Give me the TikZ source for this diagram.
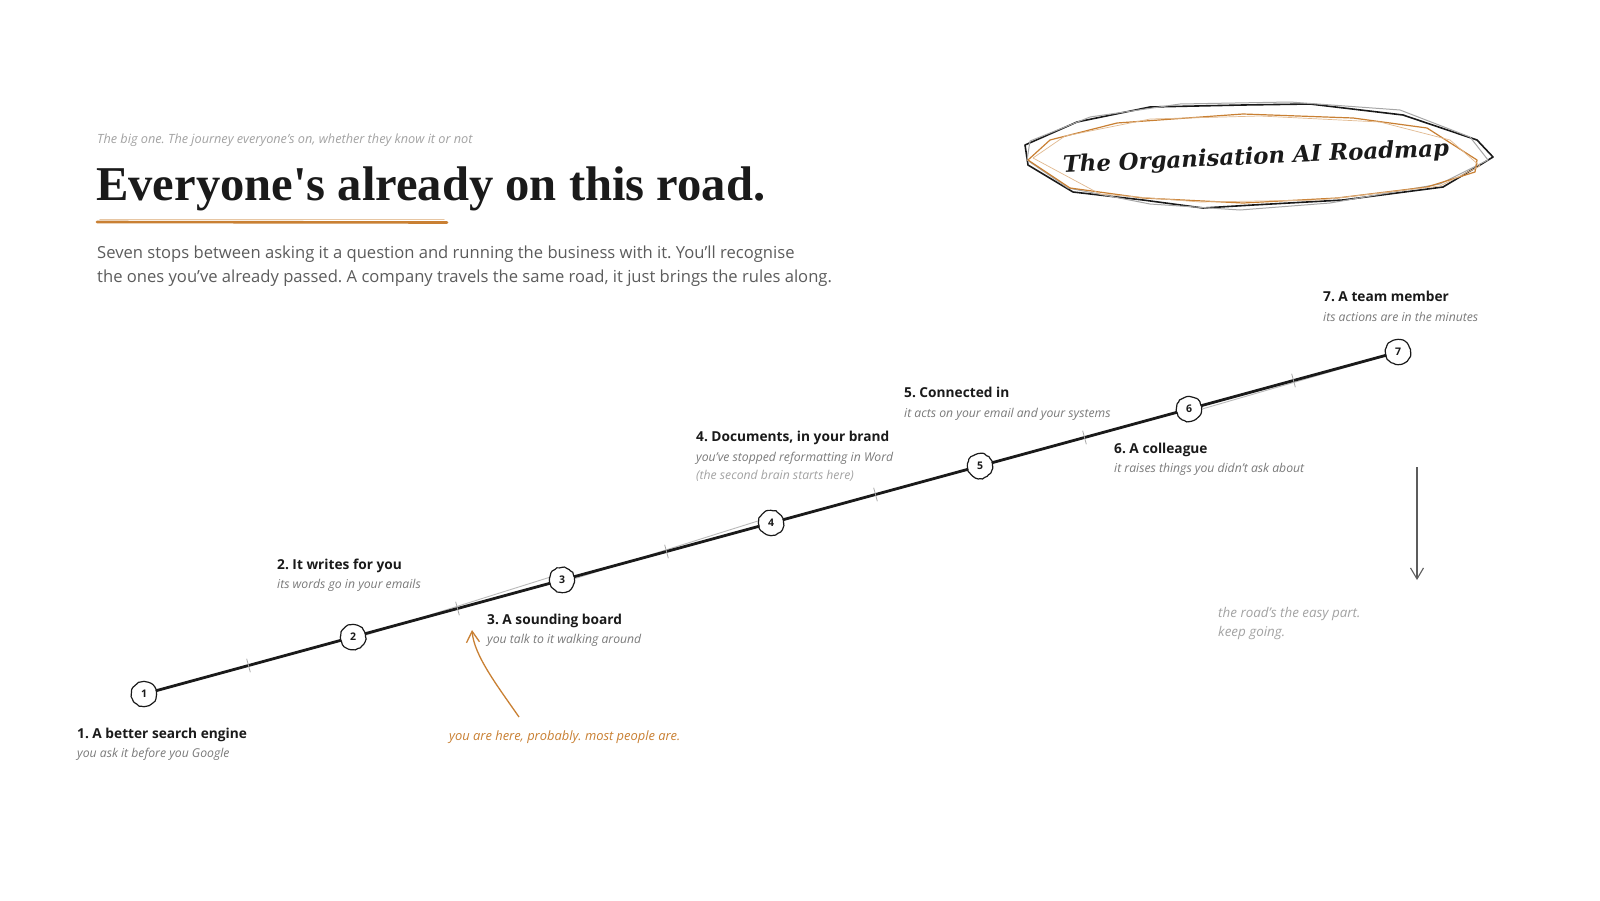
\documentclass[tikz,border=0pt]{standalone}
\usepackage{fontspec}
\setmainfont{Open Sans}
\newfontfamily\headfont{Liberation Serif}
\newfontfamily\mapfont{DejaVu Serif}
\usetikzlibrary{arrows.meta,positioning,calc,decorations.pathmorphing}
\definecolor{ink}{HTML}{1A1A1A}
\definecolor{roadorange}{HTML}{C98033}
\definecolor{bodygray}{HTML}{5C5C5C}
\definecolor{subgray}{HTML}{7A7A7A}
\definecolor{softgray}{HTML}{A3A3A3}
\frenchspacing

\begin{document}
\begin{tikzpicture}[x=1pt, y=-1pt,
    stop/.style={circle, draw=ink, line width=1.2pt, fill=white, minimum size=25pt,
                 inner sep=0pt, font=\fontsize{10.5}{12}\selectfont\bfseries, text=ink,
                 decorate, decoration={random steps, segment length=2.5pt, amplitude=0.5pt}},
    road/.style={draw=ink, line width=2.8pt, line cap=round},
    roadghost/.style={draw=gray!55, line width=0.9pt},
    roadtick/.style={draw=gray!70, line width=0.8pt, inner sep=0pt, minimum width=0pt,
                     minimum height=14pt},
    stoptitle/.style={anchor=base west, inner sep=0pt, text=ink,
                      font=\fontsize{13.7}{16}\selectfont\bfseries},
    stopsub/.style={anchor=base west, inner sep=0pt, text=subgray,
                    font=\fontsize{12.2}{14}\selectfont\itshape},
    body/.style={anchor=base west, inner sep=0pt, text=bodygray,
                 font=\fontsize{16.6}{19}\selectfont},
    note/.style={anchor=base west, inner sep=0pt, font=\fontsize{12.9}{15}\selectfont\itshape},
    sketch/.style={line width=1.6pt, line join=round, draw=ink},
    arr/.style={-{Straight Barb[length=11pt, width=13pt]}, line width=1.3pt}
]

\fill[white] (0,0) rectangle (1600,900);
\pgfmathsetseed{11}

% Header
\node[note, text=softgray, font=\fontsize{12.7}{15}\selectfont\itshape] (kicker) at (97,143)
    {The big one. The journey everyone's on, whether they know it or not};
\node[anchor=base west, inner sep=0pt, text=ink, font=\fontsize{48.6}{56}\selectfont\headfont\bfseries]
    (title) at (96,200) {Everyone's already on this road.};
\draw[roadorange!45, line width=1.4pt, line cap=round] (100,219.5) -- (444,219.5);
\draw[roadorange, line width=2.6pt, line cap=round] (97,222) -- (447,222.5);
\node[body] (b1) at (97,258)
    {Seven stops between asking it a question and running the business with it. You'll recognise};
\node[body] (b2) at (97,282)
    {the ones you've already passed. A company travels the same road, it just brings the rules along.};

% Roadmap badge
\draw[sketch] (1025,145) -- (1077,122) -- (1150,107) -- (1243,105) -- (1310,104) -- (1403,115)
    -- (1477,140) -- (1493,157) -- (1480,165) -- (1443,187) -- (1343,200) -- (1253,205)
    -- (1203,208) -- (1143,200) -- (1073,192) -- (1028,165) -- cycle;
\draw[sketch, draw=gray!70, line width=1pt] (1030,141) -- (1090,117) -- (1180,104) -- (1290,102)
    -- (1400,110) -- (1470,137) -- (1488,160) -- (1440,184) -- (1330,203) -- (1240,210)
    -- (1150,204) -- (1068,188) -- (1027,160) -- cycle;
\draw[roadorange, line width=1.2pt, line join=round] (1028,160) -- (1050,140) -- (1117,123)
    -- (1243,114) -- (1353,118) -- (1427,128) -- (1477,160) -- (1475,172) -- (1427,187)
    -- (1337,198) -- (1243,203) -- (1143,198) -- (1070,188) -- cycle;
\draw[roadorange!55, line width=0.7pt, line join=round] (1033,158) -- (1065,136) -- (1150,119)
    -- (1260,116) -- (1380,122) -- (1450,140) -- (1480,166) -- (1440,186) -- (1320,200)
    -- (1200,202) -- (1100,194) -- cycle;
\node[inner sep=0pt, rotate=2.5, text=ink, font=\fontsize{22.8}{27}\selectfont\mapfont\bfseries\itshape]
    (map) at (1256,158) {The Organisation AI Roadmap};

% Stops
\foreach \i/\x/\y in {1/144/694, 2/353/637, 3/562/580, 4/771/523, 5/980/466, 6/1189/409, 7/1398/352} {
  \node[stop] (s\i) at (\x,\y) {\i};
}

% Road
\draw[roadghost] ([yshift=2pt]s2.east) -- ([yshift=2.5pt]s3.west);
\draw[roadghost] ([yshift=1.5pt]s3.east) -- ([yshift=2pt]s4.west);
\draw[roadghost] (s6.east) -- ([yshift=-4pt]s7.west);
\draw[road] (s1) -- (s2) -- (s3) -- (s4) -- (s5) -- (s6) -- (s7);
\foreach \a/\b in {s1/s2, s2/s3, s3/s4, s4/s5, s5/s6, s6/s7} {
  \path (\a) -- (\b) node[midway, sloped, roadtick] {};
}

% Stop labels
\node[stoptitle] (t1) at (77,738) {1. A better search engine};
\node[stopsub] (u1) at (77,757) {you ask it before you Google};
\node[stoptitle] (t2) at (277,569) {2. It writes for you};
\node[stopsub] (u2) at (277,588) {its words go in your emails};
\node[stoptitle] (t3) at (487,624) {3. A sounding board};
\node[stopsub] (u3) at (487,643) {you talk to it walking around};
\node[stoptitle] (t4) at (696,441) {4. Documents, in your brand};
\node[stopsub] (u4) at (696,461) {you've stopped reformatting in Word};
\node[stopsub, text=softgray] (v4) at (696,479) {(the second brain starts here)};
\node[stoptitle] (t5) at (904,397) {5. Connected in};
\node[stopsub] (u5) at (904,417) {it acts on your email and your systems};
\node[stoptitle] (t6) at (1114,453) {6. A colleague};
\node[stopsub] (u6) at (1114,472) {it raises things you didn't ask about};
\node[stoptitle] (t7) at (1323,301) {7. A team member};
\node[stopsub] (u7) at (1323,321) {its actions are in the minutes};

% Notes
\node[note, text=roadorange] (here) at (449,740) {you are here, probably. most people are.};
\coordinate (hereTail) at (519,717);
\coordinate (hereTip) at (472,630);
\draw[arr, roadorange] (hereTail) .. controls (496,684) and (474,655) .. (hereTip);

\coordinate (downTop) at (1417,467);
\coordinate (downTip) at (1417,580);
\draw[arr, bodygray, line width=1.1pt] (downTop) -- (downTip);
\node[note, text=softgray, font=\fontsize{13.4}{15}\selectfont\itshape] (easy) at (1218,617) {the road's the easy part.};
\node[note, text=softgray, font=\fontsize{13.4}{15}\selectfont\itshape] (going) at (1218,636) {keep going.};

\end{tikzpicture}
\end{document}
